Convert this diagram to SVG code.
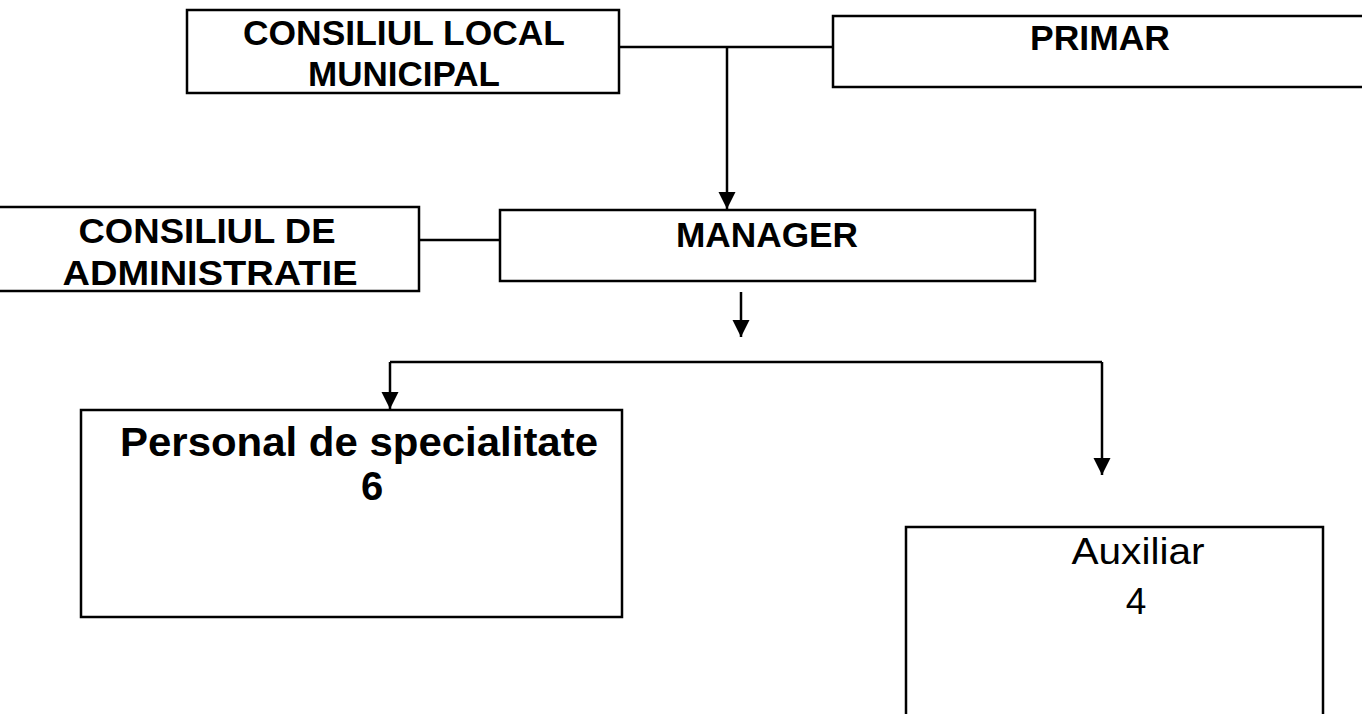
<svg xmlns="http://www.w3.org/2000/svg" width="1362" height="714" viewBox="0 0 1362 714">
<style>
.box{fill:#fff;stroke:#000;stroke-width:2.5}
.t{font-family:"Liberation Sans",Arial,sans-serif;font-weight:bold;fill:#000;text-anchor:middle}
.r{font-family:"Liberation Sans",Arial,sans-serif;font-weight:normal;fill:#000;text-anchor:middle}
.ln{fill:none;stroke:#000;stroke-width:2.5}
</style>
<defs>
<marker id="ah" markerUnits="userSpaceOnUse" markerWidth="18" markerHeight="18" viewBox="0 0 18 18" refX="17" refY="9" orient="auto">
<path d="M0,0.5 L17,9 L0,17.5 Z" fill="#000"/>
</marker>
</defs>
<rect width="1362" height="714" fill="#fff"/>
<g id="connectors">
<line class="ln" x1="619" y1="47" x2="833" y2="47"/>
<line class="ln" x1="727" y1="47" x2="727" y2="209" marker-end="url(#ah)"/>
<line class="ln" x1="419" y1="240" x2="500" y2="240"/>
<line class="ln" x1="741" y1="292" x2="741" y2="337" marker-end="url(#ah)"/>
<polyline class="ln" points="390,362 1102,362"/>
<line class="ln" x1="390" y1="362" x2="390" y2="409" marker-end="url(#ah)"/>
<line class="ln" x1="1102" y1="362" x2="1102" y2="475" marker-end="url(#ah)"/>
</g>
<g id="consiliul-local">
<rect class="box" x="187" y="10" width="432" height="83"/>
<text class="t" x="404" y="45" font-size="35" textLength="322" lengthAdjust="spacingAndGlyphs">CONSILIUL LOCAL</text>
<text class="t" x="404" y="86" font-size="35" textLength="192" lengthAdjust="spacingAndGlyphs">MUNICIPAL</text>
</g>
<g id="primar">
<rect class="box" x="833" y="16" width="540" height="71"/>
<text class="t" x="1100" y="50" font-size="35" textLength="140" lengthAdjust="spacingAndGlyphs">PRIMAR</text>
</g>
<g id="consiliul-administratie">
<rect class="box" x="-10" y="207" width="429" height="84"/>
<text class="t" x="207" y="243" font-size="35" textLength="257" lengthAdjust="spacingAndGlyphs">CONSILIUL DE</text>
<text class="t" x="210" y="285" font-size="35" textLength="295" lengthAdjust="spacingAndGlyphs">ADMINISTRATIE</text>
</g>
<g id="manager">
<rect class="box" x="500" y="210" width="535" height="71"/>
<text class="t" x="767" y="247" font-size="35" textLength="182" lengthAdjust="spacingAndGlyphs">MANAGER</text>
</g>
<g id="personal">
<rect class="box" x="81" y="410" width="541" height="207"/>
<text class="t" x="359" y="456" font-size="40" textLength="478" lengthAdjust="spacingAndGlyphs">Personal de specialitate</text>
<text class="t" x="372" y="500" font-size="40">6</text>
</g>
<g id="auxiliar">
<rect class="box" x="906" y="527" width="417" height="200"/>
<text class="r" x="1138" y="564" font-size="37" textLength="133" lengthAdjust="spacingAndGlyphs">Auxiliar</text>
<text class="r" x="1136" y="614" font-size="37">4</text>
</g>
</svg>
